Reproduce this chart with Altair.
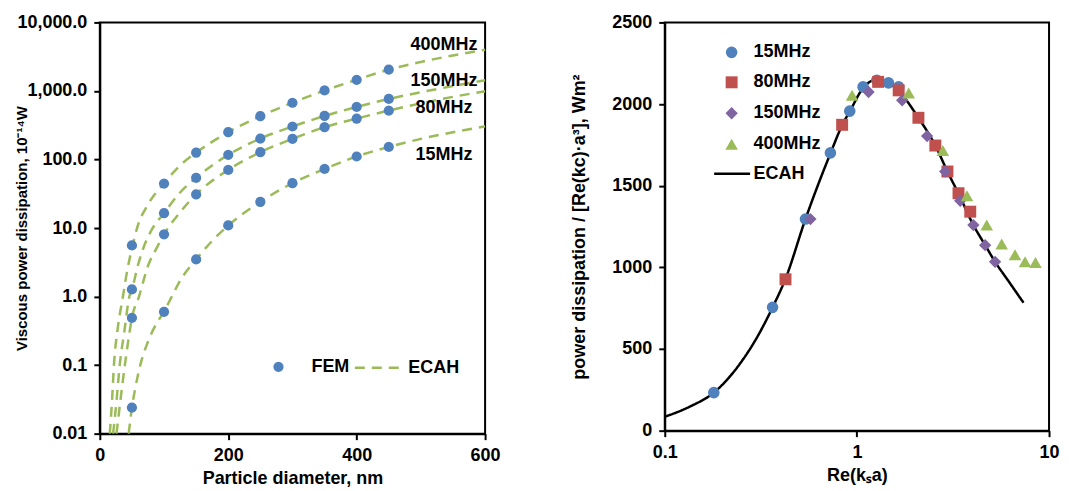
import altair as alt
import pandas as pd

FONT = "Liberation Sans"
BLUE, RED, PURPLE, GREEN = "#4F81BD", "#C0504D", "#8064A2", "#9BBB59"

# ---------------- left panel data ----------------
diameters = [50, 100, 150, 200, 250, 300, 350, 400, 450]
fem_400 = [5.58, 44.6, 126, 250, 429, 673, 1017, 1455, 2050]
fem_150 = [1.27, 16.5, 54, 117, 202, 303, 432, 585, 764]
fem_80 = [0.49, 8.1, 30.9, 70.5, 128, 200, 296, 396, 518]
fem_15 = [0.024, 0.6, 3.48, 10.9, 24.1, 45.2, 72.9, 110.6, 152.7]

ecah_400_d = [15.5, 19, 22, 28, 36, 43, 50, 58, 75, 100, 125, 150, 200, 250, 300, 350, 400, 450, 500, 550, 600]
ecah_400_v = [0.01, 0.03, 0.1, 0.35, 1.0, 2.5, 5.0, 10, 22, 45, 82, 126, 250, 429, 673, 1017, 1455, 2050, 2650, 3300, 4000]
ecah_150_d = [20.7, 26, 31, 38, 46, 50, 60, 70, 81, 100, 125, 150, 200, 250, 300, 350, 400, 450, 500, 550, 600]
ecah_150_v = [0.01, 0.03, 0.1, 0.3, 1.0, 1.27, 3.0, 5.8, 9.5, 16.5, 33, 54, 117, 202, 303, 432, 585, 764, 960, 1180, 1430]
ecah_80_d = [26, 32, 39, 45, 50, 61, 75, 88, 100, 125, 150, 200, 250, 300, 350, 400, 450, 500, 550, 600]
ecah_80_v = [0.01, 0.03, 0.1, 0.25, 0.49, 1.0, 2.8, 5.0, 8.1, 17, 31, 70.5, 128, 200, 296, 396, 518, 660, 820, 990]
ecah_15_d = [45, 50, 55, 63, 75, 88, 100, 112, 125, 150, 175, 200, 250, 300, 350, 400, 450, 500, 550, 600]
ecah_15_v = [0.01, 0.024, 0.045, 0.1, 0.22, 0.4, 0.6, 1.0, 1.7, 3.48, 6.5, 10.9, 24.1, 45.2, 72.9, 110.6, 152.7, 200, 250, 305]

curve_labels = ["400MHz", "150MHz", "80MHz", "15MHz"]
curve_label_x = [536, 536, 536, 536]
curve_label_y = [4613, 1377, 556, 118]

left_y_ticks = [0.01, 0.1, 1, 10, 100, 1000, 10000]
left_x_ticks = [0, 200, 400, 600]

# ---------------- right panel data ----------------
r15_x = [0.18, 0.364, 0.54, 0.728, 0.918, 1.077, 1.27, 1.46, 1.65]
r15_y = [233, 755, 1296, 1701, 1957, 2105, 2146, 2130, 2105]
r80_x = [0.425, 0.838, 1.29, 1.65, 2.09, 2.56, 2.96, 3.38, 3.89]
r80_y = [927, 1873, 2136, 2084, 1916, 1746, 1587, 1454, 1341]
r150_x = [0.573, 1.15, 1.72, 2.32, 2.88, 3.45, 4.04, 4.65, 5.24]
r150_y = [1296, 2074, 2023, 1804, 1587, 1408, 1259, 1136, 1034]
r400_x = [0.944, 1.86, 2.80, 3.74, 4.74, 5.67, 6.65, 7.5, 8.5]
r400_y = [2054, 2068, 1716, 1439, 1259, 1143, 1077, 1034, 1030]

ecah_r_x = [0.1, 0.136, 0.18, 0.248, 0.3, 0.364, 0.425, 0.54, 0.73, 0.84, 0.92, 1.08, 1.27,
            1.46, 1.65, 2.09, 2.56, 2.96, 3.4, 4.04, 4.65, 5.24, 6.2, 7.36]
ecah_r_y = [85, 149, 233, 415, 565, 755, 930, 1296, 1701, 1873, 1957, 2100, 2150,
            2130, 2080, 1916, 1746, 1587, 1445, 1259, 1136, 1034, 910, 784]

series_names = ["15MHz", "80MHz", "150MHz", "400MHz"]
series_colors = [BLUE, RED, PURPLE, GREEN]
series_shapes = ["circle", "square", "diamond", "triangle-up"]
series_sizes = [135, 160, 180, 190]
right_y_ticks = [0, 500, 1000, 1500, 2000, 2500]
right_x_ticks = [0.1, 1, 10]

# ---------------- tables ----------------
fem_rows = []
for vals in (fem_400, fem_150, fem_80, fem_15):
    for d, v in zip(diameters, vals):
        fem_rows.append({"d": d, "v": v, "kind": "FEM"})
fem_df = pd.DataFrame(fem_rows)

ecah_rows = []
for name, ds, vs in (("400", ecah_400_d, ecah_400_v), ("150", ecah_150_d, ecah_150_v),
                     ("80", ecah_80_d, ecah_80_v), ("15", ecah_15_d, ecah_15_v)):
    for i, (d, v) in enumerate(zip(ds, vs)):
        ecah_rows.append({"d": d, "v": v, "freq": name, "i": i, "kind2": "ECAH"})
ecah_df = pd.DataFrame(ecah_rows)

lab_df = pd.DataFrame({"t": curve_labels, "d": curve_label_x, "v": curve_label_y})

mk_rows = []
for k, (name, xs, ys) in enumerate(zip(series_names, (r15_x, r80_x, r150_x, r400_x),
                                       (r15_y, r80_y, r150_y, r400_y))):
    for x, y in zip(xs, ys):
        mk_rows.append({"x": x, "y": y, "series": name, "k": k})
mk_df = pd.DataFrame(mk_rows)
line_r_df = pd.DataFrame({"x": ecah_r_x, "y": ecah_r_y, "kind3": "ECAH"})

# ---------------- left chart ----------------
lx = alt.X("d:Q", scale=alt.Scale(domain=[0, 600], nice=False),
           axis=alt.Axis(title="Particle diameter, nm", values=left_x_ticks, labelFlush=False,
                         titlePadding=5))
ly = alt.Y("v:Q", scale=alt.Scale(type="log", domain=[0.01, 10000], nice=False),
           axis=alt.Axis(title="Viscous power dissipation, 10⁻¹⁴W", values=left_y_ticks,
                         labelExpr="datum.value >= 0.1 ? format(datum.value, ',.1f') : format(datum.value, '.2f')",
                         titleX=-78, titleBaseline="middle", titleFontSize=15))

curves = alt.Chart(ecah_df).mark_line(color=GREEN, strokeWidth=2.5, interpolate="monotone").encode(
    x=lx, y=ly, detail="freq:N", order="i:Q",
    strokeDash=alt.StrokeDash("kind2:N", scale=alt.Scale(domain=["ECAH"], range=[[10, 7]]),
                              legend=alt.Legend(title=None, orient="none", legendX=254, legendY=322,
                                                symbolType="stroke", symbolSize=2025,
                                                symbolStrokeColor=GREEN, symbolStrokeWidth=2.5,
                                                labelOffset=7)))
points = alt.Chart(fem_df).mark_point(filled=True, size=105, opacity=1).encode(
    x=lx, y=ly,
    color=alt.Color("kind:N", scale=alt.Scale(domain=["FEM"], range=[BLUE]),
                    legend=alt.Legend(title=None, orient="none", legendX=170, legendY=336,
                                      symbolType="circle", symbolSize=105, symbolOpacity=1,
                                      labelOffset=24)))
labels = alt.Chart(lab_df).mark_text(font=FONT, fontSize=18, fontWeight="bold", color="black",
                                     align="center", baseline="middle").encode(x=lx, y=ly, text="t:N")

left = alt.layer(curves, points, labels).properties(width=386, height=412)

# ---------------- right chart ----------------
rx = alt.X("x:Q", scale=alt.Scale(type="log", domain=[0.1, 10], nice=False),
           axis=alt.Axis(title="Re(kₛa)", values=right_x_ticks, format="~g", labelFlush=False,
                         titlePadding=5))
ry = alt.Y("y:Q", scale=alt.Scale(domain=[0, 2500], nice=False),
           axis=alt.Axis(title="power dissipation / [Re(kc)·a³], Wm²", values=right_y_ticks, format="d",
                         titleX=-85, titleBaseline="middle"))

rline = alt.Chart(line_r_df).mark_line(color="black", strokeWidth=2.5, interpolate="monotone").encode(
    x=rx, y=ry,
    strokeDash=alt.StrokeDash("kind3:N", scale=alt.Scale(domain=["ECAH"], range=[[1, 0]]),
                              legend=alt.Legend(title=None, orient="none", legendX=48, legendY=132,
                                                symbolType="stroke", symbolSize=1296,
                                                symbolStrokeColor="black", symbolStrokeWidth=2.5,
                                                labelOffset=2)))
mk_legend = alt.Legend(title=None, orient="none", legendX=58, legendY=21,
                       symbolOpacity=1, labelOffset=13, rowPadding=12)
markers = alt.Chart(mk_df).mark_point(filled=True, opacity=1).encode(
    x=rx, y=ry,
    color=alt.Color("series:N", scale=alt.Scale(domain=series_names, range=series_colors), legend=mk_legend),
    shape=alt.Shape("series:N", scale=alt.Scale(domain=series_names, range=series_shapes), legend=mk_legend),
    size=alt.Size("series:N", scale=alt.Scale(domain=series_names, range=series_sizes), legend=mk_legend),
    order=alt.Order("k:Q"))

right = alt.layer(rline, markers).properties(width=385, height=409)

chart = alt.hconcat(left, right, spacing=67).resolve_scale(
    color="independent", shape="independent", strokeDash="independent", size="independent"
).resolve_legend(color="independent", shape="independent", strokeDash="independent",
                 size="independent").properties(
    padding={"left": 14, "top": 12, "right": 8, "bottom": 5}
).configure_view(stroke="black", strokeWidth=2).configure_axis(
    labelFont=FONT, titleFont=FONT, labelFontSize=18, titleFontSize=18,
    labelFontWeight="bold", titleFontWeight="bold", labelColor="black", titleColor="black",
    domainColor="black", tickColor="black", domainWidth=2, tickWidth=2, tickSize=6,
    labelPadding=7, grid=False
).configure_legend(
    labelFont=FONT, labelFontSize=18, labelFontWeight="bold", labelColor="black", padding=0
)

chart.save("out.html", embed_options={"renderer": "svg", "actions": False})
